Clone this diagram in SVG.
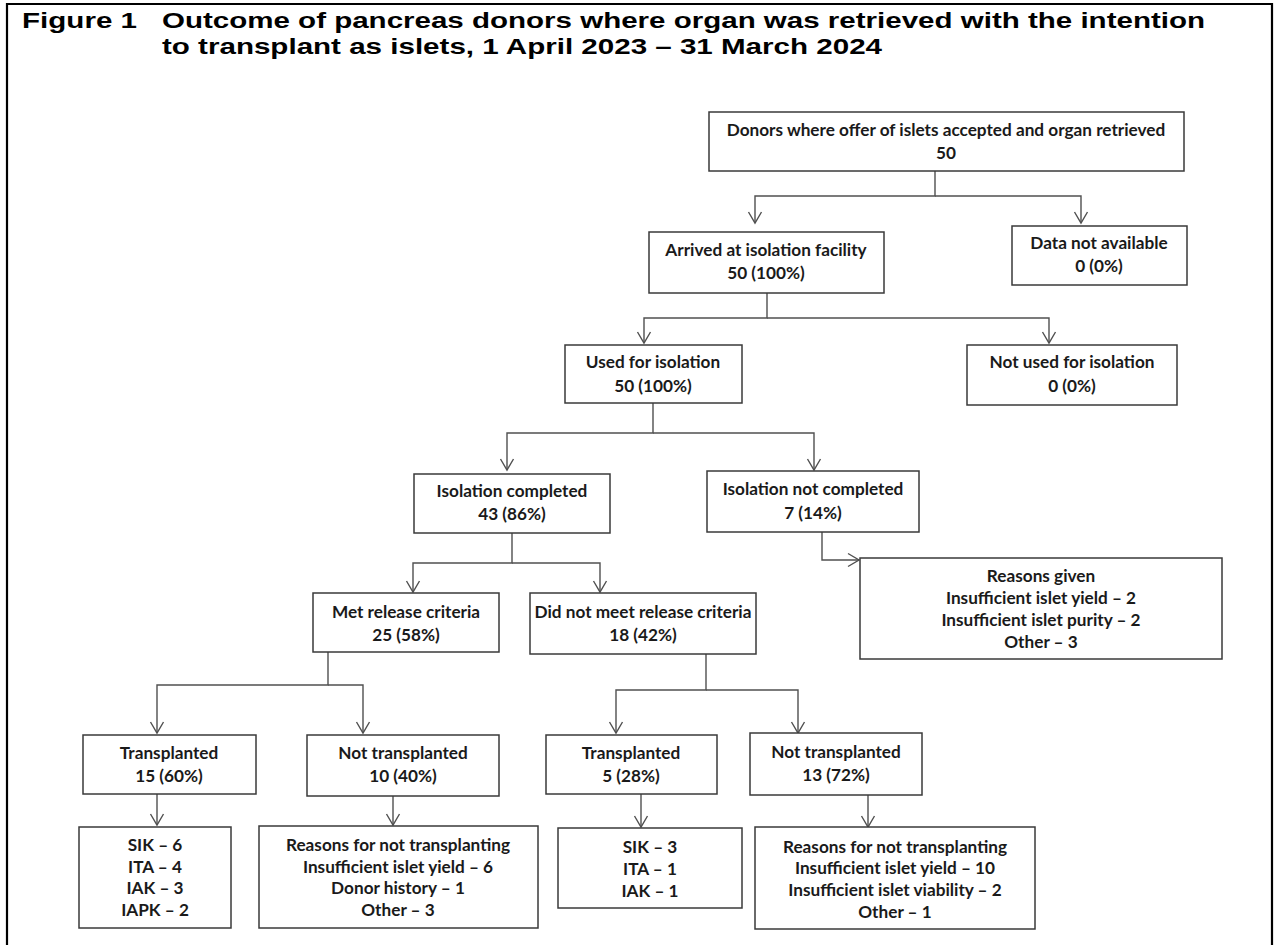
<svg xmlns="http://www.w3.org/2000/svg" width="1274" height="945" viewBox="0 0 1274 945">
<style>
.frame{fill:none;stroke:#000;stroke-width:2.2}
.title{font-family:"Liberation Sans",Arial,sans-serif;font-weight:700;font-size:21.5px;fill:#000}
.box{fill:#fff;stroke:#3a3a3a;stroke-width:1.5}
.conn{fill:none;stroke:#505050;stroke-width:1.4}
.t{font-family:Lato,"Liberation Sans",sans-serif;font-weight:700;font-size:17.2px;fill:#1a1a1a;text-anchor:middle}
</style>
<defs>
<marker id="arr" markerUnits="userSpaceOnUse" markerWidth="14" markerHeight="16" viewBox="-1 -8 13 16" refX="11" refY="0" orient="auto">
<path d="M0,-6.5 L11,0 L0,6.5" fill="none" stroke="#505050" stroke-width="1.4"/>
</marker>
</defs>
<rect width="1274" height="945" fill="#fff"/>
<path class="frame" d="M7,945 V4 H1272 V945"/>
<g id="title">
<text class="title" x="22" y="28" textLength="115" lengthAdjust="spacingAndGlyphs">Figure 1</text>
<text class="title" x="162" y="28" textLength="1043" lengthAdjust="spacingAndGlyphs">Outcome of pancreas donors where organ was retrieved with the intention</text>
<text class="title" x="162" y="54" textLength="720" lengthAdjust="spacingAndGlyphs">to transplant as islets, 1 April 2023 – 31 March 2024</text>
</g>
<g id="connectors">
<path class="conn" d="M935,171 V196 H755 V223" marker-end="url(#arr)"/>
<path class="conn" d="M935,196 H1081 V223" marker-end="url(#arr)"/>
<path class="conn" d="M767,293 V318 H644 V343" marker-end="url(#arr)"/>
<path class="conn" d="M767,318 H1049 V343" marker-end="url(#arr)"/>
<path class="conn" d="M653,403 V433 H507 V470" marker-end="url(#arr)"/>
<path class="conn" d="M653,433 H814 V470" marker-end="url(#arr)"/>
<path class="conn" d="M512,533 V563 H413 V592" marker-end="url(#arr)"/>
<path class="conn" d="M512,563 H600 V592" marker-end="url(#arr)"/>
<path class="conn" d="M822,532 V560 H859" marker-end="url(#arr)"/>
<path class="conn" d="M328,652 V685 H157 V733" marker-end="url(#arr)"/>
<path class="conn" d="M328,685 H363 V733" marker-end="url(#arr)"/>
<path class="conn" d="M706,654 V690 H616 V733" marker-end="url(#arr)"/>
<path class="conn" d="M706,690 H798 V733" marker-end="url(#arr)"/>
<path class="conn" d="M157,794 V825" marker-end="url(#arr)"/>
<path class="conn" d="M393,796 V825" marker-end="url(#arr)"/>
<path class="conn" d="M641,794 V827" marker-end="url(#arr)"/>
<path class="conn" d="M868,795 V827" marker-end="url(#arr)"/>
</g>
<g id="n-retrieved"><rect class="box" x="709" y="112" width="475" height="59"/>
<text class="t" x="946" y="136">Donors where offer of islets accepted and organ retrieved</text>
<text class="t" x="946" y="159">50</text></g>
<g id="n-arrived"><rect class="box" x="649" y="232" width="235" height="61"/>
<text class="t" x="766" y="256">Arrived at isolation facility</text>
<text class="t" x="766" y="279">50 (100%)</text></g>
<g id="n-datana"><rect class="box" x="1012" y="226" width="175" height="59"/>
<text class="t" x="1099" y="249">Data not available</text>
<text class="t" x="1099" y="272">0 (0%)</text></g>
<g id="n-used"><rect class="box" x="565" y="345" width="177" height="58"/>
<text class="t" x="653" y="368">Used for isolation</text>
<text class="t" x="653" y="392">50 (100%)</text></g>
<g id="n-notused"><rect class="box" x="967" y="345" width="210" height="60"/>
<text class="t" x="1072" y="368">Not used for isolation</text>
<text class="t" x="1072" y="392">0 (0%)</text></g>
<g id="n-isocomp"><rect class="box" x="414" y="474" width="196" height="59"/>
<text class="t" x="512" y="497">Isolation completed</text>
<text class="t" x="512" y="520">43 (86%)</text></g>
<g id="n-isonotcomp"><rect class="box" x="707" y="471" width="212" height="61"/>
<text class="t" x="813" y="495">Isolation not completed</text>
<text class="t" x="813" y="519">7 (14%)</text></g>
<g id="n-reasons1"><rect class="box" x="860" y="558" width="362" height="101"/>
<text class="t" x="1041" y="582">Reasons given</text>
<text class="t" x="1041" y="604">Insufficient islet yield – 2</text>
<text class="t" x="1041" y="626">Insufficient islet purity – 2</text>
<text class="t" x="1041" y="648">Other – 3</text></g>
<g id="n-met"><rect class="box" x="313" y="593" width="186" height="59"/>
<text class="t" x="406" y="618">Met release criteria</text>
<text class="t" x="406" y="641">25 (58%)</text></g>
<g id="n-notmet"><rect class="box" x="530" y="593" width="226" height="61"/>
<text class="t" x="643" y="618">Did not meet release criteria</text>
<text class="t" x="643" y="641">18 (42%)</text></g>
<g id="n-tx1"><rect class="box" x="83" y="735" width="173" height="59"/>
<text class="t" x="169" y="759">Transplanted</text>
<text class="t" x="169" y="782">15 (60%)</text></g>
<g id="n-notx1"><rect class="box" x="307" y="735" width="192" height="61"/>
<text class="t" x="403" y="759">Not transplanted</text>
<text class="t" x="403" y="782">10 (40%)</text></g>
<g id="n-tx2"><rect class="box" x="546" y="735" width="171" height="59"/>
<text class="t" x="631" y="759">Transplanted</text>
<text class="t" x="631" y="782">5 (28%)</text></g>
<g id="n-notx2"><rect class="box" x="750" y="733" width="172" height="62"/>
<text class="t" x="836" y="758">Not transplanted</text>
<text class="t" x="836" y="781">13 (72%)</text></g>
<g id="n-types1"><rect class="box" x="79" y="827" width="152" height="101"/>
<text class="t" x="155" y="851">SIK – 6</text>
<text class="t" x="155" y="873">ITA – 4</text>
<text class="t" x="155" y="894">IAK – 3</text>
<text class="t" x="155" y="916">IAPK – 2</text></g>
<g id="n-reasons2"><rect class="box" x="259" y="826" width="279" height="102"/>
<text class="t" x="398" y="851">Reasons for not transplanting</text>
<text class="t" x="398" y="873">Insufficient islet yield – 6</text>
<text class="t" x="398" y="894">Donor history – 1</text>
<text class="t" x="398" y="916">Other – 3</text></g>
<g id="n-types2"><rect class="box" x="558" y="828" width="184" height="80"/>
<text class="t" x="650" y="853">SIK – 3</text>
<text class="t" x="650" y="875">ITA – 1</text>
<text class="t" x="650" y="897">IAK – 1</text></g>
<g id="n-reasons3"><rect class="box" x="755" y="827" width="280" height="102"/>
<text class="t" x="895" y="853">Reasons for not transplanting</text>
<text class="t" x="895" y="874">Insufficient islet yield – 10</text>
<text class="t" x="895" y="896">Insufficient islet viability – 2</text>
<text class="t" x="895" y="918">Other – 1</text></g>
</svg>
